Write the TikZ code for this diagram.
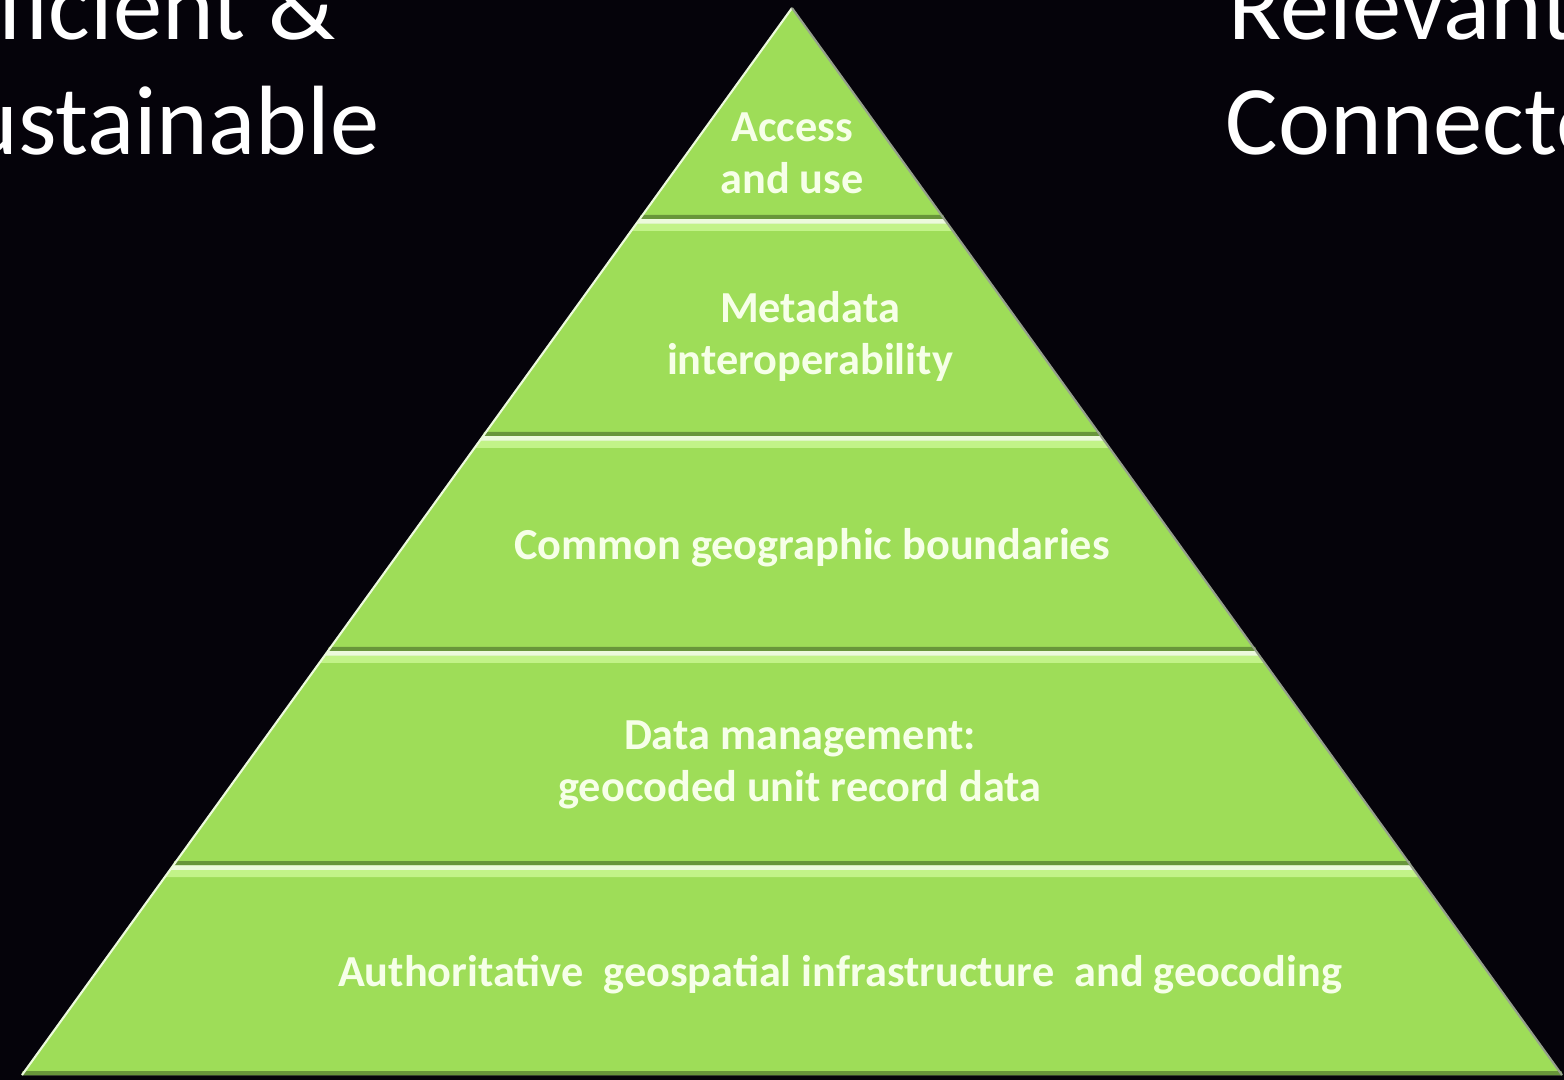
\documentclass[tikz,border=0pt]{standalone}
\usepackage{fontspec}
\setmainfont{Carlito}
\usetikzlibrary{positioning,calc}
\definecolor{BgBlack}{RGB}{5,3,10}
\definecolor{PyrGreen}{RGB}{158,221,88}
\definecolor{PyrLight}{RGB}{194,243,136}
\definecolor{PyrDark}{RGB}{104,150,58}
\definecolor{PyrWhite}{RGB}{236,250,220}
\definecolor{EdgeGrey}{RGB}{150,160,140}
\definecolor{TextCream}{RGB}{246,255,232}

\begin{document}
\begin{tikzpicture}[x=0.01cm, y=-0.01cm,
  layertext/.style={font=\bfseries\fontsize{12.6}{14.8}\selectfont, text=TextCream, align=center},
  sidetext/.style={font=\fontsize{28}{33}\selectfont, text=white, inner sep=0pt}]
\fill[BgBlack] (0,0) rectangle (1564,1080);
\useasboundingbox (0,0) rectangle (1564,1080);
\clip (0,0) rectangle (1564,1080);

% pyramid body, light seams show between the layers
\fill[PyrWhite] (792,8) -- (1562,1075) -- (22,1075) -- cycle;
\foreach \yt/\yb in {8/219, 224/436, 441/651, 656/865, 870/1075} {
  \pgfmathsetmacro\wt{0.722*(\yt-8)}
  \pgfmathsetmacro\wb{0.722*(\yb-8)}
  \fill[PyrGreen] (792-\wt,\yt) -- (792+\wt,\yt) -- (792+\wb,\yb) -- (792-\wb,\yb) -- cycle;
  \fill[PyrDark] (792-\wb+1,\yb-4) -- (792+\wb-1,\yb-4) -- (792+\wb,\yb) -- (792-\wb,\yb) -- cycle;
}
\foreach \yt in {224, 441, 656, 870} {
  \pgfmathsetmacro\wt{0.722*(\yt-8)}
  \fill[PyrLight] (792-\wt,\yt) -- (792+\wt,\yt) -- (792+\wt+5,\yt+7) -- (792-\wt-5,\yt+7) -- cycle;
}
\draw[PyrWhite, line width=0.6pt] (792,8) -- (22,1075);
\draw[EdgeGrey, line width=0.6pt] (792,8) -- (1562,1075);

% layer labels
\node[layertext] (access) at (792,153) {Access\\and use};
\node[layertext] (meta) at (810,336) {Metadata\\interoperability};
\node[layertext] (bound) at (812,548) {Common geographic boundaries};
\node[layertext] (datamgmt) at (800,765) {Data management:\\geocoded unit record data};
\node[layertext] (infra) at (840,975) {Authoritative\ \ geospatial infrastructure\ \ and geocoding};

% side headings
\node[sidetext, anchor=base east] (effic) at (336,40) {Efficient \&};
\node[sidetext, anchor=base east] (sustain) at (380,155) {Sustainable};
\node[sidetext, anchor=base west] (relev) at (1228,40) {Relevant};
\node[sidetext, anchor=base west] (connect) at (1225,155) {Connected};
\end{tikzpicture}
\end{document}
